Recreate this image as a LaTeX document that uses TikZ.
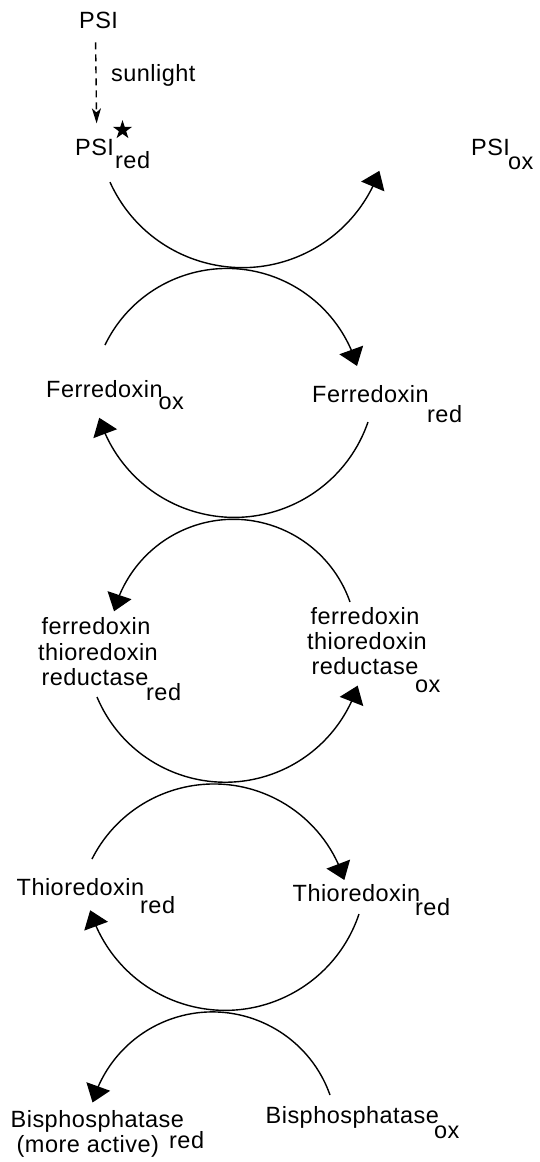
\documentclass[tikz,border=0pt]{standalone}
\usepackage{fontspec}
\setmainfont{Liberation Sans}[LetterSpace=2]
\usetikzlibrary{arrows.meta,bending,shapes.geometric}
\begin{document}
\begin{tikzpicture}[x=1pt,y=-1pt,
  font=\fontsize{23.5}{28}\selectfont,
  txt/.style={anchor=base west,inner sep=0pt},
  ctxt/.style={anchor=base,inner sep=0pt},
  arcline/.style={line width=1.4pt},
  bigtip/.style={-{Triangle[length=17pt,width=25pt]}}]
\useasboundingbox (0,0) rectangle (540,1162);

% labels
\node[txt] (psi) at (79,28) {PSI};
\node[txt] (sun) at (111,81) {sunlight};
\node[txt] (psired) at (75,155) {PSI};
\node[txt] (psiredsub) at (115,168) {red};
\node[star,star points=5,star point ratio=2.6,fill,inner sep=0pt,minimum size=20pt] (star) at (122.5,130) {};
\node[txt] (psiox) at (471,155) {PSI};
\node[txt] (psioxsub) at (508,169) {ox};

\node[txt] (fdox) at (46,397) {Ferredoxin};
\node[txt] (fdoxsub) at (158.5,409) {ox};
\node[txt] (fdred) at (312,402) {Ferredoxin};
\node[txt] (fdredsub) at (427,422) {red};

\node[ctxt] (ftrredA) at (96,634) {ferredoxin};
\node[ctxt] (ftrredB) at (98,660) {thioredoxin};
\node[ctxt] (ftrredC) at (95,685) {reductase};
\node[txt]  (ftrredsub) at (146,700) {red};
\node[ctxt] (ftroxA) at (365,624) {ferredoxin};
\node[ctxt] (ftroxB) at (367,649) {thioredoxin};
\node[ctxt] (ftroxC) at (365,674) {reductase};
\node[txt]  (ftroxsub) at (415,692) {ox};

\node[txt] (trxl) at (16.5,895) {Thioredoxin};
\node[txt] (trxlsub) at (140,913) {red};
\node[txt] (trxr) at (292.5,901) {Thioredoxin};
\node[txt] (trxrsub) at (415,915) {red};

\node[txt] (bpl) at (10.5,1127) {Bisphosphatase};
\node[txt] (bplB) at (16.5,1152) {(more active)};
\node[txt] (bplsub) at (169,1148) {red};
\node[txt] (bpr) at (265.5,1123) {Bisphosphatase};
\node[txt] (bprsub) at (434,1138) {ox};

% sunlight arrow
\draw[line width=1.4pt,dash pattern=on 7pt off 5pt,
      -{Stealth[length=15pt,width=9pt,inset=4pt]}]
  ([xshift=-3pt,yshift=-14pt]psi.south) -- ([xshift=2pt,yshift=15pt]psired.north);

% arc start points
\coordinate (a1) at (110,182.1);
\coordinate (a2) at (105,345);
\coordinate (a3) at (368,422);
\coordinate (a4) at (350,602);
\coordinate (a5) at (97,697);
\coordinate (a6) at (92,859);
\coordinate (a7) at (359,914);
\coordinate (a8) at (330,1095);

\draw[arcline,bigtip] (a1) arc[start angle=155.7,end angle=19.5,radius=145.3];
\draw[arcline,bigtip] (a2) arc[start angle=-154.2,end angle=-16.3,radius=135.5];
\draw[arcline,bigtip] (a3) arc[start angle=19.0,end angle=162.8,radius=141.4];
\draw[arcline,bigtip] (a4) arc[start angle=-19.3,end angle=-165.2,radius=123.5];
\draw[arcline,bigtip] (a5) arc[start angle=157.2,end angle=17.8,radius=139.1];
\draw[arcline,bigtip] (a6) arc[start angle=-153.2,end angle=-17.3,radius=136.6];
\draw[arcline,bigtip] (a7) arc[start angle=18.5,end angle=163.1,radius=141.1];
\draw[arcline,bigtip] (a8) arc[start angle=-19.5,end angle=-164.1,radius=124.7];
\end{tikzpicture}
\end{document}
